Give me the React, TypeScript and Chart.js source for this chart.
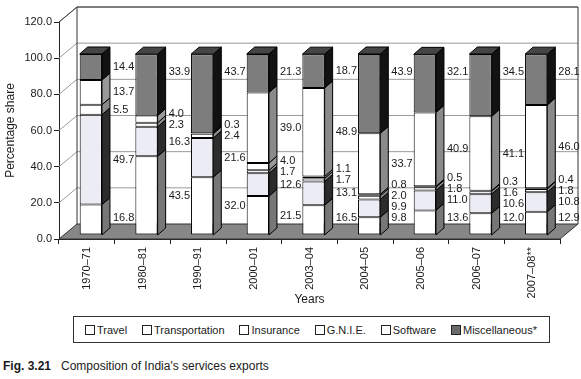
import React, { useEffect, useRef } from "react";
import { Chart, registerables } from "chart.js";

Chart.register(...registerables);

const years = ["1970–71", "1980–81", "1990–91", "2000–01", "2003–04", "2004–05", "2005–06", "2006–07", "2007–08**"];
const travel = [16.8, 43.5, 32.0, 21.5, 16.5, 9.8, 13.6, 12.0, 12.9];
const transportation = [49.7, 16.3, 21.6, 12.6, 13.1, 9.9, 11.0, 10.6, 10.8];
const insurance = [5.5, 2.3, 2.4, 1.7, 1.7, 2.0, 1.8, 1.6, 1.8];
const gnie = [13.7, 4.0, 0.3, 4.0, 1.1, 0.8, 0.5, 0.3, 0.4];
const software = [null, null, null, 39.0, 48.9, 33.7, 40.9, 41.1, 46.0];
const misc = [14.4, 33.9, 43.7, 21.3, 18.7, 43.9, 32.1, 34.5, 28.1];
const yTicks = [0, 20, 40, 60, 80, 100, 120];
const seriesNames = ["Travel", "Transportation", "Insurance", "G.N.I.E.", "Software", "Miscellaneous*"];
const seriesData = [travel, transportation, insurance, gnie, software, misc];

const frontColors = ["#ffffff", "#ececf4", "#ffffff", "#ffffff", "#ffffff", "#7d7d7d"];
const sideColors = ["#777777", "#2c2c2c", "#8a8a8a", "#999999", "#8a8a8a", "#121212"];
const legendColors = ["#ffffff", "#ffffff", "#ffffff", "#ffffff", "#ffffff", "#6a6a6a"];

const FONT = "'Liberation Sans', Arial, sans-serif";
const WALL = { x: 18, y: -15 };
const SHIFT = { x: 4, y: -4 };
const DEPTH = { x: 8, y: -7 };

const threeD = {
  id: "threeD",
  beforeDatasetsDraw(chart: any) {
    const { ctx, chartArea: a, scales } = chart;
    const ys = scales.y;
    ctx.save();
    ctx.beginPath();
    ctx.moveTo(a.left, a.bottom);
    ctx.lineTo(a.right, a.bottom);
    ctx.lineTo(a.right + WALL.x, a.bottom + WALL.y);
    ctx.lineTo(a.left + WALL.x, a.bottom + WALL.y);
    ctx.closePath();
    ctx.fillStyle = "#878787";
    ctx.fill();
    ctx.strokeStyle = "#333";
    ctx.lineWidth = 1;
    ctx.stroke();
    ctx.strokeStyle = "#9a9a9a";
    for (const v of yTicks) {
      if (v === 0) continue;
      const py = ys.getPixelForValue(v);
      ctx.beginPath();
      ctx.moveTo(a.left, py);
      ctx.lineTo(a.left + WALL.x, py + WALL.y);
      ctx.lineTo(a.right + WALL.x, py + WALL.y);
      ctx.stroke();
    }
    ctx.strokeStyle = "#333";
    ctx.beginPath();
    ctx.moveTo(a.left, a.top);
    ctx.lineTo(a.left + WALL.x, a.top + WALL.y);
    ctx.lineTo(a.right + WALL.x, a.top + WALL.y);
    ctx.lineTo(a.right + WALL.x, a.bottom + WALL.y);
    ctx.moveTo(a.left + WALL.x, a.top + WALL.y);
    ctx.lineTo(a.left + WALL.x, a.bottom + WALL.y);
    ctx.stroke();
    ctx.restore();
    ctx.save();
    ctx.translate(SHIFT.x, SHIFT.y);
  },
  afterDatasetsDraw(chart: any) {
    const { ctx, scales } = chart;
    const ys = scales.y;
    const n = years.length;
    const nd = chart.data.datasets.length;
    const segs: any[][] = [];
    for (let i = 0; i < n; i++) {
      let cum = 0;
      const row: any[] = [];
      for (let di = 0; di < nd; di++) {
        const v = chart.data.datasets[di].data[i];
        if (v == null) {
          row.push(null);
          continue;
        }
        const b = ys.getPixelForValue(cum);
        cum += Number(v);
        const t = ys.getPixelForValue(cum);
        row.push({ v: Number(v), b, t });
      }
      segs.push(row);
    }
    ctx.save();
    ctx.lineWidth = 1;
    ctx.strokeStyle = "#000";
    for (let i = 0; i < n; i++) {
      let topIdx = -1;
      for (let di = 0; di < nd; di++) {
        const s = segs[i][di];
        if (!s) continue;
        topIdx = di;
        const el = chart.getDatasetMeta(di).data[i];
        const right = el.x + el.width / 2;
        ctx.beginPath();
        ctx.moveTo(right, s.t);
        ctx.lineTo(right + DEPTH.x, s.t + DEPTH.y);
        ctx.lineTo(right + DEPTH.x, s.b + DEPTH.y);
        ctx.lineTo(right, s.b);
        ctx.closePath();
        ctx.fillStyle = sideColors[di];
        ctx.fill();
        ctx.stroke();
      }
      if (topIdx >= 0) {
        const el = chart.getDatasetMeta(topIdx).data[i];
        const s = segs[i][topIdx];
        const left = el.x - el.width / 2;
        const right = el.x + el.width / 2;
        ctx.beginPath();
        ctx.moveTo(left, s.t);
        ctx.lineTo(left + DEPTH.x, s.t + DEPTH.y);
        ctx.lineTo(right + DEPTH.x, s.t + DEPTH.y);
        ctx.lineTo(right, s.t);
        ctx.closePath();
        ctx.fillStyle = "#454545";
        ctx.fill();
        ctx.stroke();
      }
    }
    ctx.restore();
    ctx.restore();

    ctx.save();
    ctx.font = "11px " + FONT;
    ctx.fillStyle = "#1a1a1a";
    ctx.textAlign = "left";
    ctx.textBaseline = "middle";
    for (let i = 0; i < n; i++) {
      let topIdx = -1;
      let botIdx = -1;
      for (let di = 0; di < nd; di++)
        if (segs[i][di]) {
          topIdx = di;
          if (botIdx < 0) botIdx = di;
        }
      let prev = Infinity;
      for (let di = 0; di < nd; di++) {
        const s = segs[i][di];
        if (!s) continue;
        const el = chart.getDatasetMeta(di).data[i];
        const top = s.t + SHIFT.y;
        const bottom = s.b + SHIFT.y;
        let cy = (s.t + s.b) / 2 + SHIFT.y;
        if (di === botIdx) cy = Math.min(cy, bottom - 17);
        if (di === topIdx) cy = Math.min(cy, top + 18);
        cy = Math.min(cy, prev - 11);
        prev = cy;
        const x = el.x + el.width / 2 + SHIFT.x + DEPTH.x + 3;
        ctx.fillText(s.v.toFixed(1), x, cy);
      }
    }
    ctx.restore();
  },
};

export default function App() {
  const ref = useRef<HTMLCanvasElement | null>(null);

  useEffect(() => {
    if (!ref.current) return;
    Chart.defaults.font.family = FONT;
    const chart = new Chart(ref.current, {
      type: "bar",
      data: {
        labels: years,
        datasets: seriesData.map((d, di) => ({
          label: seriesNames[di],
          data: d as any,
          backgroundColor: frontColors[di],
          borderColor: "#000",
          borderWidth: 1,
          borderSkipped: false,
          barPercentage: 0.4,
          categoryPercentage: 1,
          clip: false as any,
        })),
      },
      options: {
        responsive: false,
        animation: false,
        layout: { padding: { top: 22, right: 21, left: 1, bottom: 0 } },
        plugins: { legend: { display: false }, tooltip: { enabled: false } },
        scales: {
          x: {
            stacked: true,
            afterFit: (s: any) => {
              s.height = 315 - 239;
            },
            grid: { display: true, drawOnChartArea: false, drawTicks: true, tickLength: 5, color: "#222", offset: true },
            border: { color: "#222" },
            ticks: { minRotation: 90, maxRotation: 90, autoSkip: false, color: "#1a1a1a", font: { size: 11 }, padding: 3 },
            title: { display: true, text: "Years", color: "#1a1a1a", font: { size: 12 }, padding: { top: 4, bottom: 8 } },
          },
          y: {
            stacked: true,
            min: 0,
            max: 120,
            afterFit: (s: any) => {
              s.width = 58;
            },
            afterBuildTicks: (s: any) => {
              s.ticks = yTicks.map((v) => ({ value: v }));
            },
            grid: { drawOnChartArea: false, drawTicks: true, tickLength: 5, color: "#222" },
            border: { color: "#222" },
            ticks: { color: "#1a1a1a", font: { size: 11 }, padding: 2, callback: (v: any) => Number(v).toFixed(1) },
            title: { display: true, text: "Percentage share", color: "#1a1a1a", font: { size: 12 }, padding: { top: 2, bottom: 4 } },
          },
        },
      },
      plugins: [threeD],
    });
    return () => chart.destroy();
  }, []);

  return (
    <div style={{ position: "absolute", left: 0, top: 0, width: 581, height: 379, background: "#fff", fontFamily: FONT, color: "#1a1a1a" }}>
      <canvas ref={ref} width={581} height={315} style={{ position: "absolute", left: 0, top: 0, width: 581, height: 315 }} />
      <div
        style={{
          position: "absolute",
          left: 73,
          top: 316,
          width: 477,
          height: 27,
          boxSizing: "border-box",
          border: "1px solid #333",
          display: "flex",
          alignItems: "center",
          justifyContent: "space-between",
          padding: "0 12px 0 11px",
          fontSize: 11,
        }}
      >
        {seriesNames.map((name, i) => (
          <div key={name} style={{ display: "flex", alignItems: "center" }}>
            <span style={{ display: "inline-block", width: 8, height: 8, border: "1px solid #222", background: legendColors[i], marginRight: 2 }} />
            <span>{name}</span>
          </div>
        ))}
      </div>
      <div style={{ position: "absolute", left: 3, top: 359, fontSize: 12, lineHeight: "14px", whiteSpace: "nowrap" }}>
        <span style={{ fontWeight: "bold", display: "inline-block", width: 58 }}>Fig. 3.21</span>
        <span>Composition of India's services exports</span>
      </div>
    </div>
  );
}
